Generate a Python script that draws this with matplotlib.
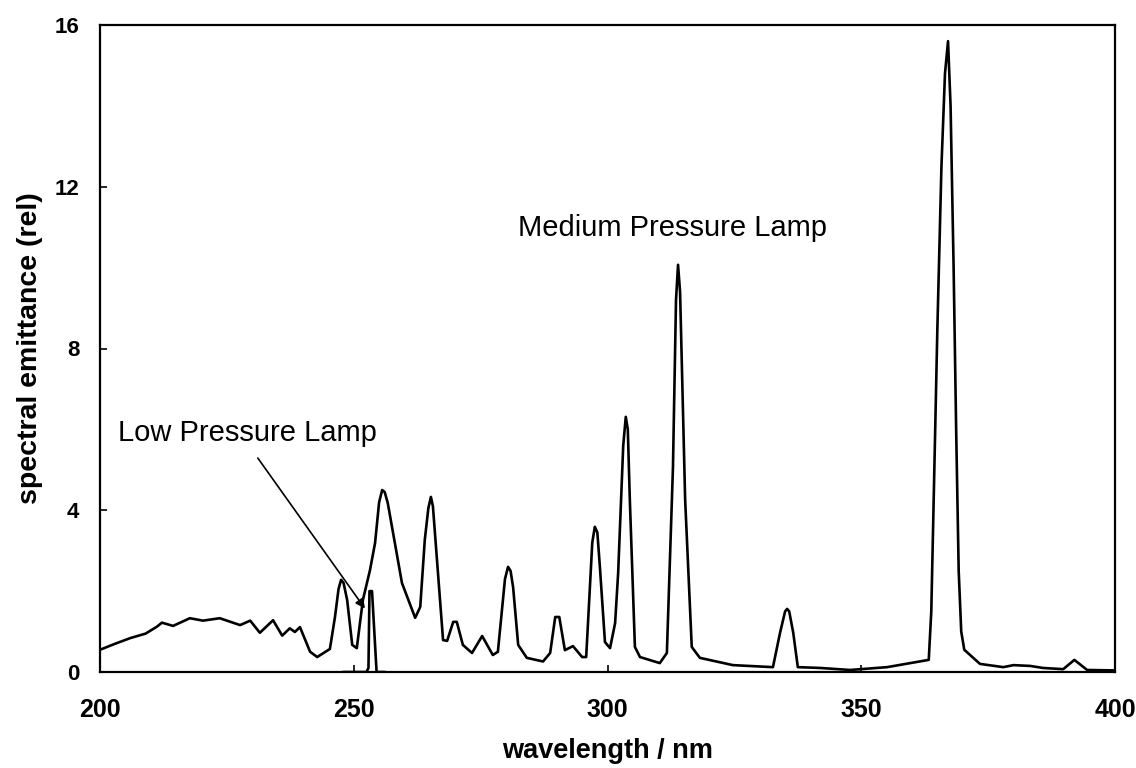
import numpy as np
import matplotlib
matplotlib.use("Agg")
import matplotlib.pyplot as plt

plt.rcParams['font.family'] = ['Liberation Sans', 'DejaVu Sans']

# medium pressure lamp spectrum
mp_wl = [200, 203, 206, 209, 211.2, 212.2, 214.4, 217.7, 220.3, 223.6, 227.6, 229.6,
         231.5, 234.1, 235.9, 237.4, 238.4, 239.4, 241.4, 242.8, 245.3, 246.3, 247.0, 247.5,
         248.0, 248.7, 249.7, 250.6, 251.8, 253.2, 254.2, 255.0, 255.6, 256.1, 256.7,
         259.5, 262.1, 263.1, 264.0, 264.7, 265.2, 265.6, 266.4, 267.6, 268.4, 269.6,
         270.3, 271.5, 273.3, 275.3, 277.4, 278.4, 279.8, 280.4, 280.9, 281.4, 282.4,
         284.1, 287.3, 288.7, 289.7, 290.5, 291.6, 293.2, 295.0, 295.8, 297.0, 297.5,
         298.0, 298.5, 299.5, 300.5, 301.5, 302.1, 303.1, 303.6, 304.0, 304.4, 305.4,
         306.4, 310.3, 311.7, 312.9, 313.5, 313.9, 314.3, 315.3, 316.6, 318.2, 324.7,
         332.6, 334.0, 335.0, 335.4, 335.8, 336.6, 337.5, 341.9, 347.8, 355.1, 363.3,
         363.8, 364.4, 365.0, 365.8, 366.5, 367.1, 367.6, 368.2, 368.7, 369.2, 369.7,
         370.3, 373.4, 378, 380, 383.3, 385.8, 389.8, 392, 394.5, 399.6]
mp_val = [0.55, 0.7, 0.84, 0.95, 1.12, 1.22, 1.14, 1.33, 1.27, 1.33, 1.16, 1.27,
          0.97, 1.28, 0.9, 1.08, 0.99, 1.11, 0.5, 0.37, 0.57, 1.36, 2.05, 2.28,
          2.2, 1.78, 0.67, 0.59, 1.78, 2.52, 3.19, 4.2, 4.5, 4.45, 4.18,
          2.2, 1.34, 1.61, 3.27, 4.05, 4.33, 4.1, 2.77, 0.79, 0.77, 1.24,
          1.24, 0.67, 0.47, 0.89, 0.42, 0.5, 2.3, 2.6, 2.5, 2.1, 0.67,
          0.35, 0.26, 0.47, 1.36, 1.36, 0.54, 0.64, 0.37, 0.37, 3.2, 3.59,
          3.45, 2.6, 0.74, 0.59, 1.21, 2.45, 5.6, 6.31, 6.0, 4.26, 0.62,
          0.37, 0.22, 0.47, 5.07, 9.2, 10.07, 9.4, 4.26, 0.62, 0.35, 0.17,
          0.12, 0.97, 1.5, 1.56, 1.5, 0.97, 0.12, 0.1, 0.05, 0.12, 0.3,
          1.5, 5.0, 8.5, 12.5, 14.8, 15.6, 14.0, 10.0, 6.0, 2.5, 1.0,
          0.55, 0.2, 0.12, 0.17, 0.15, 0.1, 0.07, 0.3, 0.05, 0.04]

# low pressure lamp line at 254 nm
lp_wl = [248, 252.5, 252.9, 253.1, 253.6, 254.5, 256]
lp_val = [0, 0, 0.1, 2.0, 2.0, 0, 0]

fig = plt.figure(figsize=(11.36, 7.68), dpi=100)
ax = fig.add_axes([100/1136, 1 - 672/768, 1015/1136, 647/768])

ax.plot(mp_wl, mp_val, color="black", lw=1.9)
ax.plot(lp_wl, lp_val, color="black", lw=1.9)

ax.set_xlim(200, 400)
ax.set_ylim(0, 16)
ax.set_xticks([200, 250, 300, 350, 400])
ax.set_yticks([0, 4, 8, 12, 16])
ax.tick_params(direction="in", length=5, width=1.2)
ax.tick_params(axis="x", labelsize=18, pad=19)
ax.tick_params(axis="y", labelsize=16, pad=15)
for lab in ax.get_xticklabels() + ax.get_yticklabels():
    lab.set_fontweight("bold")
for s in ax.spines.values():
    s.set_linewidth(1.6)

ax.set_xlabel("wavelength / nm", fontsize=19.5, fontweight="bold", labelpad=11)
ax.set_ylabel("spectral emittance (rel)", fontsize=20.5, fontweight="bold", labelpad=8)

ax.text(282.4, 10.97, "Medium Pressure Lamp", fontsize=21, va="center", ha="left")
ax.text(203.5, 5.92, "Low Pressure Lamp", fontsize=21, va="center", ha="left")
ax.annotate("", xy=(252.2, 1.57), xytext=(231.1, 5.29),
            arrowprops=dict(arrowstyle="-|>", color="black", lw=1.2,
                            mutation_scale=14, shrinkA=0, shrinkB=0))

fig.savefig("out.png", dpi=100)
